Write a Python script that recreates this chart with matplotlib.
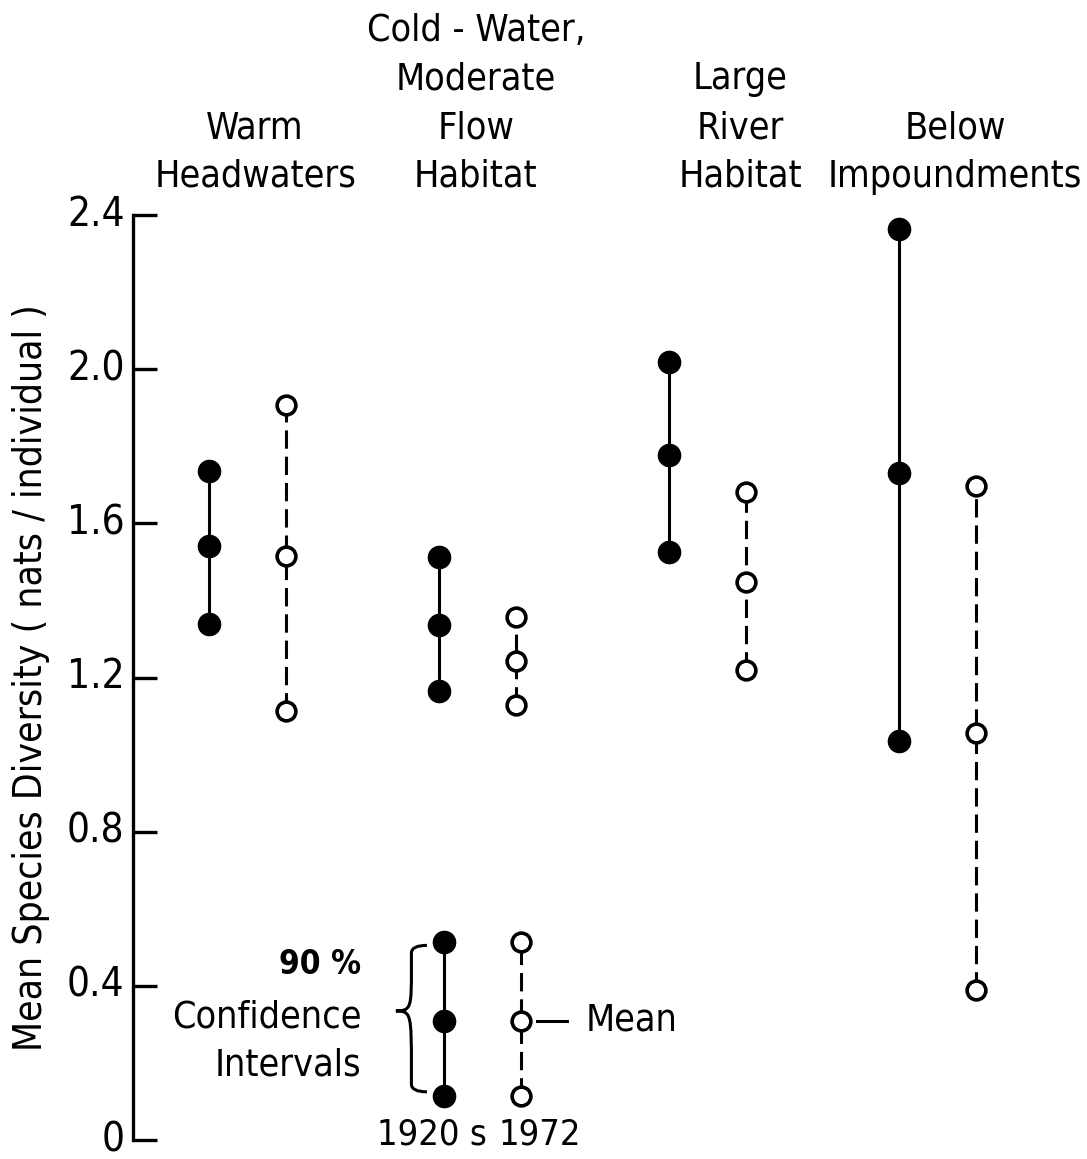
import matplotlib
matplotlib.use("Agg")
import matplotlib.pyplot as plt
from matplotlib.path import Path
from matplotlib.patches import PathPatch
import matplotlib.transforms as mtransforms

plt.rcParams['font.family'] = ['DejaVu Sans']
plt.rcParams['font.stretch'] = 'condensed'

# ---- data ----
categories = ["Warm\nHeadwaters",
              "Cold - Water,\nModerate\nFlow\nHabitat",
              "Large\nRiver\nHabitat",
              "Below\nImpoundments"]
upper_1920 = [1.736, 1.513, 2.018, 2.364]
mean_1920 = [1.540, 1.335, 1.777, 1.731]
lower_1920 = [1.338, 1.164, 1.526, 1.035]
upper_1972 = [1.908, 1.358, 1.682, 1.697]
mean_1972 = [1.516, 1.243, 1.447, 1.055]
lower_1972 = [1.112, 1.128, 1.220, 0.390]
legend_vals = [0.515, 0.31, 0.115]   # upper, mean, lower
period_labels = ["1920 s", "1972"]
yticks = [0, 0.4, 0.8, 1.2, 1.6, 2.0, 2.4]
ytick_labels = ["0", "0.4", "0.8", "1.2", "1.6", "2.0", "2.4"]
ylabel = "Mean Species Diversity ( nats / individual )"

W, H = 1087, 1159
fig = plt.figure(figsize=(W / 100, H / 100), dpi=100)
ax = fig.add_axes([133 / W, (H - 1140) / H, 1 - 133 / W, (1140 - 215) / H])

off = 0.167
ax.set_xlim(0.502, 4.65)
ax.set_ylim(0, 2.4)

lw = 2.2
def draw_pair(x, lo, me, hi, filled):
    if filled:
        ax.plot([x, x], [lo, hi], color='black', lw=lw, solid_capstyle='butt', clip_on=False, zorder=2)
        ax.plot([x, x, x], [lo, me, hi], 'o', ms=16, color='black', mec='black', clip_on=False, zorder=3)
    else:
        ln, = ax.plot([x, x], [lo, hi], color='black', lw=lw, clip_on=False, zorder=2)
        ln.set_dashes((6, 2.6))
        ax.plot([x, x, x], [lo, me, hi], 'o', ms=13.5, mfc='white', mec='black', mew=2.6, clip_on=False, zorder=3)

for i in range(len(categories)):
    xc = i + 1
    draw_pair(xc - off, lower_1920[i], mean_1920[i], upper_1920[i], True)
    draw_pair(xc + off, lower_1972[i], mean_1972[i], upper_1972[i], False)

# category labels
label_x = [1.033, 1.993, 3.141, 4.076]
tr = mtransforms.blended_transform_factory(ax.transData, ax.transAxes)
for lx, lab in zip(label_x, categories):
    ax.text(lx, 1.022, lab, transform=tr, ha='center', va='bottom',
            fontsize=27, linespacing=1.45, multialignment='center')

# axis styling
for s in ['top', 'right', 'bottom']:
    ax.spines[s].set_visible(False)
ax.spines['left'].set_linewidth(2.4)
ax.set_xticks([])
ax.set_yticks(yticks)
ax.set_yticklabels(ytick_labels)
ax.tick_params(axis='y', direction='in', length=17, width=2.4, labelsize=29, pad=6)
plt.setp(ax.get_yticklabels(), va='center')
ax.set_ylabel(ylabel, fontsize=28, labelpad=12)

# legend key
lx1, lx2 = 2.02 - off, 2.02 + off
draw_pair(lx1, legend_vals[2], legend_vals[1], legend_vals[0], True)
draw_pair(lx2, legend_vals[2], legend_vals[1], legend_vals[0], False)
ax.text(1.80, 0.013, period_labels[0], ha='center', va='center', fontsize=26, clip_on=False)
ax.text(2.272, 0.013, period_labels[1], ha='center', va='center', fontsize=26, clip_on=False)
ax.plot([lx2 + 0.07, lx2 + 0.2], [0.31, 0.31], color='black', lw=2.2, clip_on=False)
ax.text(lx2 + 0.285, 0.31, "Mean", ha='left', va='center', fontsize=27)
ax.text(1.495, 0.455, "90 %", ha='right', va='center', fontsize=24, fontweight='bold')
ax.text(1.495, 0.256, "Confidence\nIntervals", ha='right', va='center', fontsize=27, linespacing=1.45)

# curly brace
bx0, bx1 = 1.645, 1.78
ytop, ymid, ybot = 0.505, 0.335, 0.125
bm = (bx0 + bx1) / 2
verts = [(bx1, ytop), (bm, ytop), (bm, ytop - 0.02), (bm, ytop - 0.06),
         (bm, ymid + 0.01), (bm, ymid), (bx0, ymid),
         (bm, ymid), (bm, ymid - 0.01), (bm, ybot + 0.06),
         (bm, ybot + 0.02), (bm, ybot), (bx1, ybot)]
codes = [Path.MOVETO, Path.CURVE3, Path.CURVE3, Path.LINETO,
         Path.CURVE4, Path.CURVE4, Path.CURVE4,
         Path.CURVE4, Path.CURVE4, Path.CURVE4,
         Path.LINETO, Path.CURVE3, Path.CURVE3]
ax.add_patch(PathPatch(Path(verts, codes), fill=False, lw=2.2, color='black'))

fig.savefig("out.png", dpi=100)
